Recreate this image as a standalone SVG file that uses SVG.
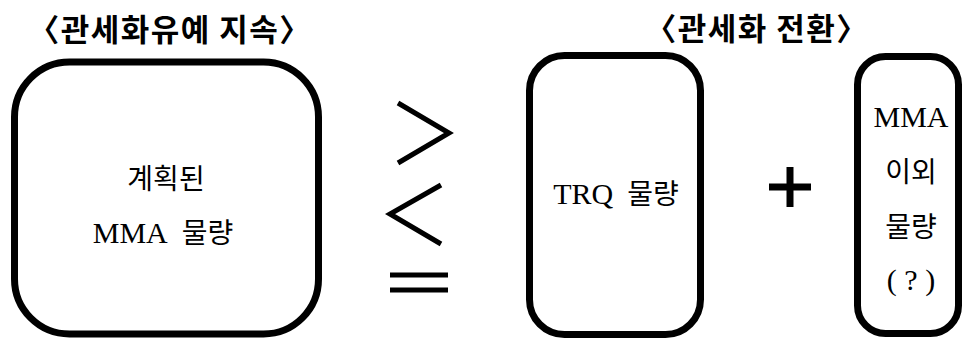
<svg xmlns="http://www.w3.org/2000/svg" width="963" height="340" viewBox="0 0 963 340">
  <style>
    .box { fill: #fff; stroke: #000; stroke-width: 7; }
    .sym { fill: none; stroke: #000; stroke-width: 5; stroke-linecap: butt; }
    .title { font-family: "Noto Sans CJK KR", sans-serif; font-weight: bold; font-size: 31px; letter-spacing: 1.5px; fill: #000; text-anchor: middle; }
    .lbl { font-family: "Liberation Serif", "Noto Sans CJK KR", serif; font-size: 28px; fill: #000; text-anchor: middle; }
    .lat { font-size: 30px; }
  </style>
  <rect width="963" height="340" fill="#fff"/>

  <g id="title-left"><text class="title" x="170" y="41">〈관세화유예 지속〉</text></g>
  <g id="title-right"><text class="title" x="757" y="40">〈관세화 전환〉</text></g>

  <g id="node-mma-planned">
    <rect class="box" x="14.5" y="62" width="304" height="272" rx="55"/>
    <text class="lbl" x="166" y="189">계획된</text>
    <text class="lbl" x="163" y="243" xml:space="preserve"><tspan class="lat">MMA</tspan>  물량</text>
  </g>

  <g id="node-trq">
    <rect class="box" x="529.5" y="55.5" width="171" height="279" rx="35"/>
    <text class="lbl" x="616" y="204" xml:space="preserve"><tspan class="lat">TRQ</tspan>  물량</text>
  </g>

  <g id="node-other">
    <rect class="box" x="857.5" y="56.5" width="101" height="277" rx="28"/>
    <text class="lbl lat" x="911" y="127">MMA</text>
    <text class="lbl" x="911" y="182">이외</text>
    <text class="lbl" x="911" y="237">물량</text>
    <text class="lbl lat" x="911" y="290" xml:space="preserve">( ? )</text>
  </g>

  <g id="connectors">
    <polyline class="sym" points="398,103 449,133 398,163"/>
    <polyline class="sym" points="441,185 390,214 441,244"/>
    <line class="sym" x1="390" y1="275" x2="448" y2="275"/>
    <line class="sym" x1="390" y1="290" x2="448" y2="290"/>
    <line x1="790" y1="167" x2="790" y2="207" stroke="#000" stroke-width="7"/>
    <line x1="769" y1="187" x2="811" y2="187" stroke="#000" stroke-width="7"/>
  </g>
</svg>
